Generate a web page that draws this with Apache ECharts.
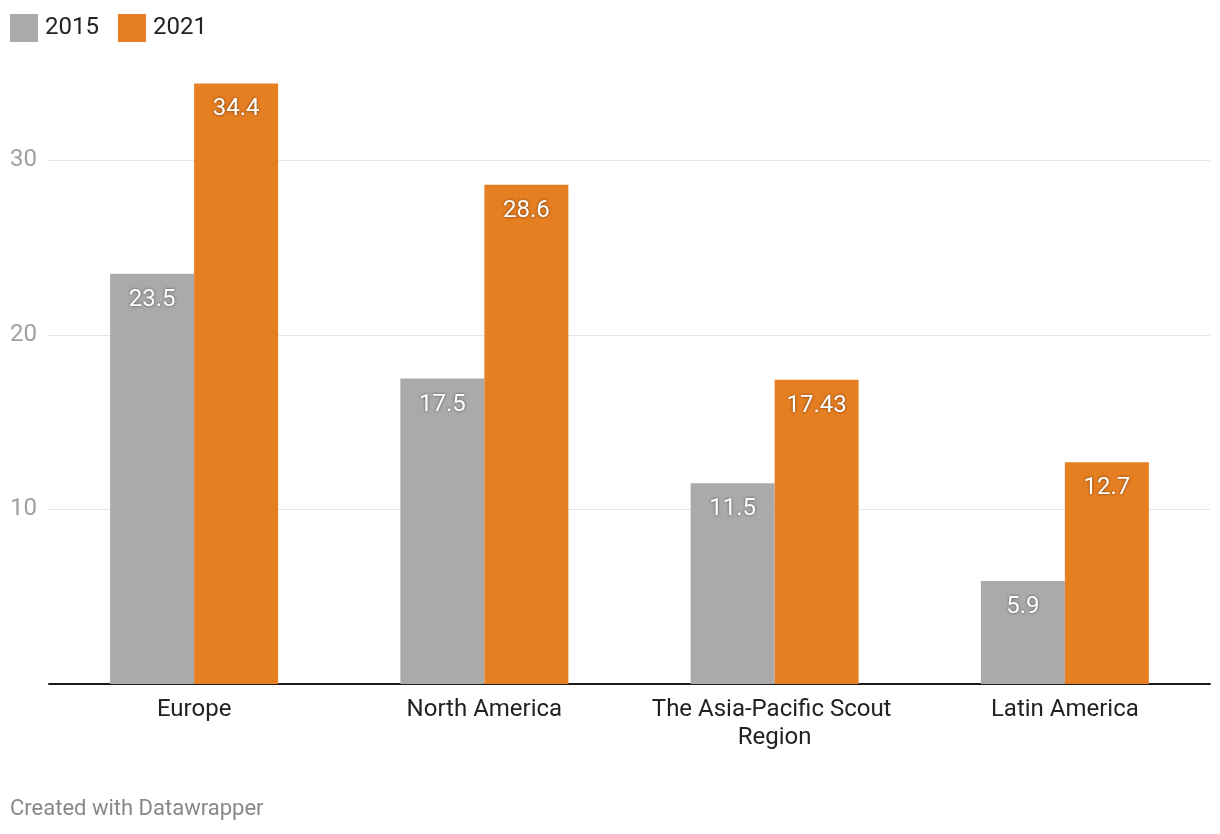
<!DOCTYPE html>
<html>
<head>
<meta charset="utf-8">
<script src="https://cdn.jsdelivr.net/npm/echarts@6/dist/echarts.min.js"></script>
<style>
html,body{margin:0;padding:0;background:#fff;}
#chart{width:1220px;height:834px;}
</style>
</head>
<body>
<div id="chart"></div>
<script>
const categories = ["Europe", "North America", "The Asia-Pacific Scout Region", "Latin America"];
const values2015 = [23.5, 17.5, 11.5, 5.9];
const values2021 = [34.4, 28.6, 17.43, 12.7];
const seriesNames = ["2015", "2021"];
const gridValues = [10, 20, 30];

const chart = echarts.init(document.getElementById('chart'), null, {renderer: 'canvas'});
const labelStyle = {
  show: true,
  position: 'insideTop',
  distance: 14,
  color: '#fff',
  fontFamily: 'Roboto',
  fontSize: 24,
  textShadowColor: 'rgba(0,0,0,0.55)',
  textShadowBlur: 3,
  textShadowOffsetX: 0,
  textShadowOffsetY: 0,
  formatter: p => String(p.value)
};
chart.setOption({
  animation: false,
  textStyle: {fontFamily: 'Roboto'},
  legend: {
    left: 10, top: 14, padding: 0,
    itemWidth: 28, itemHeight: 28, itemGap: 19,
    icon: 'rect',
    textStyle: {fontSize: 24, color: '#222', fontFamily: 'Roboto', padding: [0,0,0,2]},
    data: seriesNames
  },
  graphic: [{
    type: 'text', left: 10, top: 798,
    style: {text: 'Created with Datawrapper', fill: '#888', font: '22px Roboto'}
  }],
  grid: {left: 49, right: 10, top: 73, bottom: 150, containLabel: false},
  xAxis: {
    type: 'category',
    data: categories,
    axisLine: {show: true, lineStyle: {color: '#1d1d1d', width: 2}},
    axisTick: {show: false},
    axisLabel: {
      color: '#222', fontSize: 24, fontFamily: 'Roboto', margin: 12,
      lineHeight: 28, width: 270, overflow: 'break', interval: 0
    }
  },
  yAxis: {
    type: 'value', min: 0, max: 35, interval: 10,
    axisLine: {show: false},
    axisTick: {show: false},
    splitLine: {show: false},
    axisLabel: {
      color: '#a0a0a0', fontSize: 24, fontFamily: 'Roboto', align: 'left', margin: 39,
      padding: [6, 0, 0, 0],
      showMaxLabel: false,
      formatter: v => (v === 0 || v % 10 !== 0) ? '' : String(v)
    }
  },
  series: [
    {name: seriesNames[0], type: 'bar', data: values2015, barWidth: 84, barGap: '0%', z: 3,
     itemStyle: {color: '#aaaaaa'}, label: labelStyle,
     markLine: {
       silent: true, symbol: 'none', z: 1,
       label: {show: false},
       lineStyle: {color: '#e5e5e5', width: 1, type: 'solid'},
       data: gridValues.map(v => ({yAxis: v}))
     }},
    {name: seriesNames[1], type: 'bar', data: values2021, barWidth: 84, z: 3,
     itemStyle: {color: '#e67e22'}, label: labelStyle}
  ]
});
</script>
</body>
</html>
